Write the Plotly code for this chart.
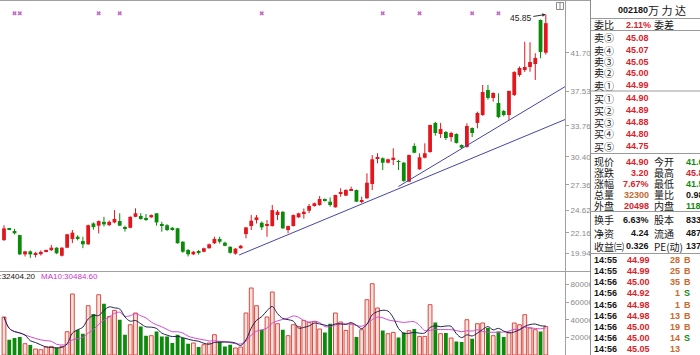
import plotly.graph_objects as go
import pandas as pd

W, H = 700, 355

# ---------------- data ----------------
opens = [21.38, 22.62, 22.36, 21.92, 19.83, 20.15, 19.80, 19.85, 20.12, 20.28,
         20.55, 19.68, 20.55, 21.50, 21.74, 21.27, 20.92, 23.18, 22.94, 23.36,
         23.00, 23.29, 23.44, 22.71, 22.71, 23.90, 24.00, 23.70, 23.84, 24.28,
         23.08, 22.99, 22.71, 22.65, 21.20, 20.30, 19.83, 20.07, 20.11, 20.49,
         21.03, 21.50, 21.09, 20.65, 19.90, 20.49, 22.03, 22.90, 23.55, 23.26,
         22.95, 22.90, 24.09, 24.45, 22.47, 22.90, 23.84, 24.20, 24.56, 25.07,
         25.18, 25.80, 25.54, 24.93, 26.40, 26.20, 26.78, 26.81, 25.52, 25.91,
         27.46, 30.20, 30.25, 29.77, 30.07, 29.92, 29.77, 27.71, 31.58, 29.05,
         30.31, 30.93, 34.08, 32.88, 33.10, 32.55, 32.88, 31.69, 31.47, 33.53,
         34.08, 34.94, 37.65, 36.79, 36.24, 35.37, 34.94, 37.11, 39.28, 39.82,
         40.15, 40.47, 45.25, 41.70]
highs = [22.99, 22.70, 22.60, 21.95, 20.20, 20.25, 20.10, 20.25, 20.35, 20.85,
         20.60, 20.60, 22.05, 22.47, 21.90, 21.74, 23.05, 23.30, 23.50, 23.90,
         23.50, 24.63, 24.28, 22.95, 23.95, 24.82, 24.30, 24.20, 24.15, 24.30,
         23.36, 23.10, 22.80, 22.70, 21.25, 20.40, 20.20, 20.30, 20.55, 21.00,
         21.74, 21.74, 21.20, 20.70, 20.50, 20.85, 22.80, 24.09, 24.09, 23.40,
         23.55, 25.18, 24.63, 24.50, 22.95, 24.15, 24.35, 24.80, 25.30, 25.45,
         26.15, 25.90, 26.00, 26.30, 26.99, 26.90, 27.17, 26.85, 26.08, 28.62,
         30.60, 30.79, 30.35, 30.20, 31.33, 30.07, 29.85, 30.65, 31.87, 30.79,
         31.87, 33.90, 34.20, 34.08, 33.20, 33.13, 32.95, 31.75, 34.04, 33.60,
         35.30, 38.20, 38.20, 37.40, 37.30, 35.50, 37.60, 39.70, 40.20, 42.89,
         42.83, 41.64, 45.30, 45.85]
lows = [21.27, 22.45, 22.00, 19.75, 19.60, 19.45, 19.50, 19.70, 20.05, 20.20,
        19.85, 19.60, 20.50, 21.05, 21.35, 20.50, 20.85, 22.50, 22.10, 22.85,
        22.90, 23.20, 22.90, 22.30, 22.65, 23.85, 23.60, 23.45, 23.80, 22.94,
        22.28, 22.35, 22.40, 21.00, 20.00, 19.60, 19.75, 19.80, 20.05, 20.45,
        20.95, 21.00, 20.70, 19.90, 19.80, 20.45, 21.57, 22.47, 23.18, 22.47,
        21.74, 22.85, 23.55, 22.60, 22.12, 22.85, 23.80, 23.70, 24.30, 25.00,
        25.10, 25.55, 25.00, 24.90, 26.08, 26.15, 26.70, 25.50, 25.37, 25.85,
        26.81, 29.70, 28.98, 29.70, 29.52, 28.98, 27.70, 27.65, 30.80, 29.00,
        30.25, 30.85, 32.70, 32.45, 32.23, 32.05, 31.85, 31.30, 31.40, 32.55,
        33.50, 34.85, 36.60, 36.40, 34.60, 34.80, 34.40, 37.00, 39.10, 39.60,
        39.64, 38.74, 41.09, 41.50]
closes = [22.65, 22.55, 22.11, 19.83, 20.15, 19.83, 19.85, 20.10, 20.30, 20.55,
          19.95, 20.55, 22.00, 22.18, 21.50, 20.92, 22.99, 22.78, 23.44, 23.08,
          23.36, 23.66, 22.94, 22.60, 23.90, 24.28, 23.66, 23.64, 24.09, 23.29,
          22.94, 22.47, 22.47, 21.03, 20.11, 19.83, 20.11, 20.02, 20.49, 20.92,
          21.50, 21.20, 20.76, 20.00, 20.45, 20.76, 22.75, 23.48, 23.84, 22.76,
          23.02, 24.63, 24.45, 22.65, 22.90, 24.09, 24.28, 24.45, 25.07, 25.37,
          25.83, 25.70, 25.18, 26.27, 26.48, 26.81, 26.84, 25.54, 25.58, 27.60,
          30.14, 30.30, 29.77, 30.14, 30.31, 29.85, 27.78, 30.60, 30.85, 30.36,
          30.79, 33.86, 32.99, 33.42, 32.45, 32.99, 31.91, 31.40, 33.75, 32.99,
          35.16, 37.44, 36.79, 37.33, 34.72, 34.94, 37.55, 39.60, 40.04, 40.15,
          40.69, 41.13, 41.78, 44.90]
volumes = [43180, 17390, 19300, 20450, 12840, 11360, 6800, 6020, 9090, 9770,
           8640, 9770, 26480, 69320, 28750, 24200, 56020, 46590, 68520, 58300,
           43860, 50680, 40110, 23070, 34430, 47730, 32500, 21930, 21930, 26820,
           21140, 21140, 13640, 23070, 19320, 12840, 13640, 9090, 11700, 13640,
           23070, 15460, 9770, 11700, 7950, 9090, 47730, 76140, 56020, 28750,
           43180, 71590, 35570, 28750, 21930, 34430, 32500, 39320, 37050, 38190,
           29540, 25680, 35570, 47730, 37500, 27960, 35230, 20450, 28750, 62840,
           81020, 53410, 27960, 24200, 25680, 20000, 25680, 27620, 29540, 21140,
           21140, 57160, 37050, 24200, 25000, 19320, 15460, 14770, 40110, 18520,
           35570, 36360, 30680, 21930, 26820, 20450, 25680, 36360, 34430, 45800,
           30680, 28750, 26820, 32300]

event_idx = [2, 3, 18, 22, 49, 72, 79, 89, 94]
event_price = 45.97
trend_x = [[44.7, 106.7], [75.0, 106.7]]
trend_y = [[19.76, 34.46], [27.19, 38.03]]
price_ticks = [41.70, 37.53, 33.76, 30.40, 27.36, 24.62, 22.16, 19.94]
vol_ticks = [20000, 40000, 60000, 80000]
high_label = 45.85
ma5_text = "5:32404.20"
ma10_text = "MA10:30484.60"

# right panel data
title_code = "002180"
title_name = "万 力 达"
weibi_row = ["委比", "2.11%", "委差"]
sell_labels = ["卖⑤", "卖④", "卖③", "卖②", "卖①"]
sell_prices = ["45.08", "45.07", "45.05", "45.00", "44.99"]
buy_labels = ["买①", "买②", "买③", "买④", "买⑤"]
buy_prices = ["44.90", "44.89", "44.88", "44.80", "44.75"]
stat_labels1 = ["现价", "涨跌", "涨幅", "总量", "外盘", "换手", "净资", "收益㈢"]
stat_values1 = ["44.90", "3.20", "7.67%", "32300", "20498", "6.63%", "4.24", "0.326"]
stat_labels2 = ["今开", "最高", "最低", "量比", "内盘", "股本", "流通", "PE(动)"]
stat_values2 = ["41.60", "45.85", "41.50", "0.98", "11802", "8332", "4873", "137"]
trade_times = ["14:55", "14:55", "14:56", "14:56", "14:56", "14:56", "14:56", "14:56", "14:56"]
trade_prices = ["44.99", "44.99", "45.00", "44.92", "44.98", "44.98", "45.00", "45.00", "45.05"]
trade_vols = ["28", "25", "35", "1", "1", "13", "19", "14", "13"]
trade_sides = ["B", "B", "B", "S", "B", "B", "B", "S", ""]

# ---------------- style ----------------
RED = "#e3161e"
GREEN = "#0b8a0b"
TXT_RED = "#d8232a"
TXT_GREEN = "#128a12"
TXT_ORANGE = "#c8692d"
TXT_BLACK = "#151515"
GRID = "#a0a0a0"
NUM = "Liberation Sans"
CJK = "Noto Sans CJK SC"
CJK_SIZE = 10

n = len(opens)
idx = list(range(n))
up = [c >= o for o, c in zip(opens, closes)]

fig = go.Figure()

# candle bodies and wicks
for flag, col in [(True, RED), (False, GREEN)]:
    xs = [i for i in idx if up[i] == flag]
    base = [min(opens[i], closes[i]) for i in xs]
    hgt = [max(abs(closes[i] - opens[i]), 0.1) for i in xs]
    fig.add_trace(go.Bar(x=xs, y=hgt, base=base, width=0.72,
                         marker=dict(color=col, line=dict(width=0)),
                         xaxis="x", yaxis="y", showlegend=False, hoverinfo="skip"))
    wx, wy = [], []
    for i in xs:
        wx += [i, i, None]
        wy += [lows[i], highs[i], None]
    fig.add_trace(go.Scatter(x=wx, y=wy, mode="lines", line=dict(color=col, width=1),
                             xaxis="x", yaxis="y", showlegend=False, hoverinfo="skip"))

# trend lines
for tx, ty in zip(trend_x, trend_y):
    fig.add_trace(go.Scatter(x=tx, y=ty, mode="lines", line=dict(color="#4646a8", width=1),
                             xaxis="x", yaxis="y", showlegend=False, hoverinfo="skip"))

# event markers
fig.add_trace(go.Scatter(x=event_idx, y=[event_price] * len(event_idx), mode="markers",
                         marker=dict(symbol="x", size=4, color="#c36ac8", line=dict(width=0)),
                         xaxis="x", yaxis="y", showlegend=False, hoverinfo="skip"))

# volume bars
vx_up = [i for i in idx if up[i]]
vx_dn = [i for i in idx if not up[i]]
fig.add_trace(go.Bar(x=vx_up, y=[volumes[i] for i in vx_up], width=0.72,
                     marker=dict(color="#f9e2de", line=dict(color="#d84a42", width=1)),
                     xaxis="x2", yaxis="y2", showlegend=False, hoverinfo="skip"))
fig.add_trace(go.Bar(x=vx_dn, y=[volumes[i] for i in vx_dn], width=0.72,
                     marker=dict(color=GREEN, line=dict(width=0)),
                     xaxis="x2", yaxis="y2", showlegend=False, hoverinfo="skip"))

vs = pd.Series(volumes, dtype=float)
ma5 = vs.rolling(5, min_periods=1).mean()
ma10 = vs.rolling(10, min_periods=1).mean()
fig.add_trace(go.Scatter(x=idx, y=ma10, mode="lines", line=dict(color="#d24ad2", width=1, shape="spline"),
                         xaxis="x2", yaxis="y2", showlegend=False, hoverinfo="skip"))
fig.add_trace(go.Scatter(x=idx, y=ma5, mode="lines", line=dict(color="#22224e", width=1, shape="spline"),
                         xaxis="x2", yaxis="y2", showlegend=False, hoverinfo="skip"))

# ---------------- layout ----------------
def px(x):
    return x / W


def py(y):
    return 1 - y / H


x_dom = [0, px(565)]
x_rng = [-0.76, 106.65]
axis_common = dict(side="right", showline=True, linecolor=GRID, linewidth=1, ticks="outside",
                   ticklen=3, tickcolor=GRID, showgrid=False, zeroline=False,
                   tickfont=dict(family=NUM, size=8, color="#8a8a8a"))

fig.update_layout(
    width=W, height=H, margin=dict(l=0, r=0, t=0, b=0),
    paper_bgcolor="white", plot_bgcolor="white", barmode="overlay",
    showlegend=False, hovermode=False,
    xaxis=dict(domain=x_dom, range=x_rng, visible=False, anchor="y"),
    xaxis2=dict(domain=x_dom, range=x_rng, visible=False, anchor="y2", matches="x"),
    yaxis=dict(domain=[py(271.5), 1], range=[17.969, 47.416], anchor="x",
               tickvals=price_ticks, ticktext=[f"{v:.2f}" for v in price_ticks], **axis_common),
    yaxis2=dict(domain=[0, py(271.5)], range=[0, 94900], anchor="x2",
                tickvals=vol_ticks, ticktext=[str(v) for v in vol_ticks], **axis_common),
)

shapes = []


def hline(y, x0, x1, color=GRID):
    shapes.append(dict(type="line", xref="paper", yref="paper", x0=px(x0), x1=px(x1),
                       y0=py(y), y1=py(y), line=dict(color=color, width=1), layer="above"))


hline(0.5, 0, 590)
hline(271.5, 0, 590)
# panel background (clips overflowing tick labels)
shapes.append(dict(type="rect", xref="paper", yref="paper", x0=px(590), x1=1, y0=0, y1=1,
                   fillcolor="white", line=dict(width=0), layer="above"))
shapes.append(dict(type="line", xref="paper", yref="paper", x0=px(590.5), x1=px(590.5), y0=0, y1=1,
                   line=dict(color="#8c8c8c", width=1), layer="above"))
for yy in [18.5, 30.5, 91, 153.5, 211.5, 253.5]:
    hline(yy, 590, 700, "#9a9a9a")
# small icon in the corner
shapes.append(dict(type="rect", xref="paper", yref="paper", x0=px(556.5), x1=px(563.5),
                   y0=py(9.5), y1=py(2.5), line=dict(color="#8a8a8a", width=1), layer="above"))
shapes.append(dict(type="line", xref="paper", yref="paper", x0=px(560), x1=px(560),
                   y0=py(9.5), y1=py(2.5), line=dict(color="#8a8a8a", width=1), layer="above"))

ann = []


def txt(x, y, s, color=TXT_BLACK, size=CJK_SIZE, family=CJK, anchor="left", bold=False):
    ann.append(dict(xref="paper", yref="paper", x=px(x), y=py(y),
                    text=(f"<b>{s}</b>" if bold else s), showarrow=False,
                    xanchor=anchor, yanchor="middle", borderpad=0,
                    font=dict(family=family, size=size, color=color)))


# high label
ann.append(dict(xref="x", yref="y", x=n - 1, y=high_label, text=f"{high_label:.2f}",
                showarrow=True, ax=-25, ay=4, arrowhead=2, arrowsize=0.7, arrowwidth=1,
                arrowcolor="#333333", standoff=0, font=dict(family=NUM, size=8.5, color="#222222")))

# volume MA legend
txt(37, 276.5, ma5_text, color="#111111", size=8, family=NUM, anchor="right")
txt(40, 276.5, ma10_text, color="#cc33cc", size=8, family=NUM)

# panel title
txt(617, 10, title_code, size=9, family=NUM, bold=True)
txt(647, 10, title_name, size=11)

# weibi
txt(593, 24.5, weibi_row[0])
txt(652, 24.5, weibi_row[1], color=TXT_RED, size=9, family=NUM, anchor="right", bold=True)
txt(653, 24.5, weibi_row[2])

sell_y = [38, 50, 61.5, 73, 85]
for lab, val, yy in zip(sell_labels, sell_prices, sell_y):
    txt(593, yy, lab)
    txt(650, yy, val, color=TXT_RED, size=9, family=NUM, anchor="right", bold=True)
buy_y = [98, 110, 122, 134, 146]
for lab, val, yy in zip(buy_labels, buy_prices, buy_y):
    txt(593, yy, lab)
    txt(650, yy, val, color=TXT_RED, size=9, family=NUM, anchor="right", bold=True)

stat_y = [161.5, 172.5, 183.5, 194.5, 205.5, 220, 233, 246]
v1_col = [TXT_RED, TXT_RED, TXT_RED, TXT_ORANGE, TXT_RED, TXT_BLACK, TXT_BLACK, TXT_BLACK]
v2_col = [TXT_GREEN, TXT_RED, TXT_GREEN, TXT_BLACK, TXT_GREEN, TXT_BLACK, TXT_BLACK, TXT_BLACK]
for k in range(len(stat_labels1)):
    yy = stat_y[k]
    txt(593, yy, stat_labels1[k])
    txt(650, yy, stat_values1[k], color=v1_col[k], size=9, family=NUM, anchor="right", bold=True)
    txt(653, yy, stat_labels2[k])
    txt(685, yy, stat_values2[k], color=v2_col[k], size=9, family=NUM, bold=True)

for k in range(len(trade_times)):
    yy = 260 + 11.15 * k
    txt(593, yy, trade_times[k], size=9, family=NUM, bold=True)
    txt(651, yy, trade_prices[k], color=TXT_RED, size=9, family=NUM, anchor="right", bold=True)
    txt(681, yy, trade_vols[k], color=TXT_ORANGE, size=9, family=NUM, anchor="right", bold=True)
    if trade_sides[k]:
        txt(683, yy, trade_sides[k], color=(TXT_GREEN if trade_sides[k] == "S" else TXT_ORANGE),
            size=9, family=NUM, bold=True)

fig.update_layout(shapes=shapes, annotations=ann)
fig.write_html("out.html")
